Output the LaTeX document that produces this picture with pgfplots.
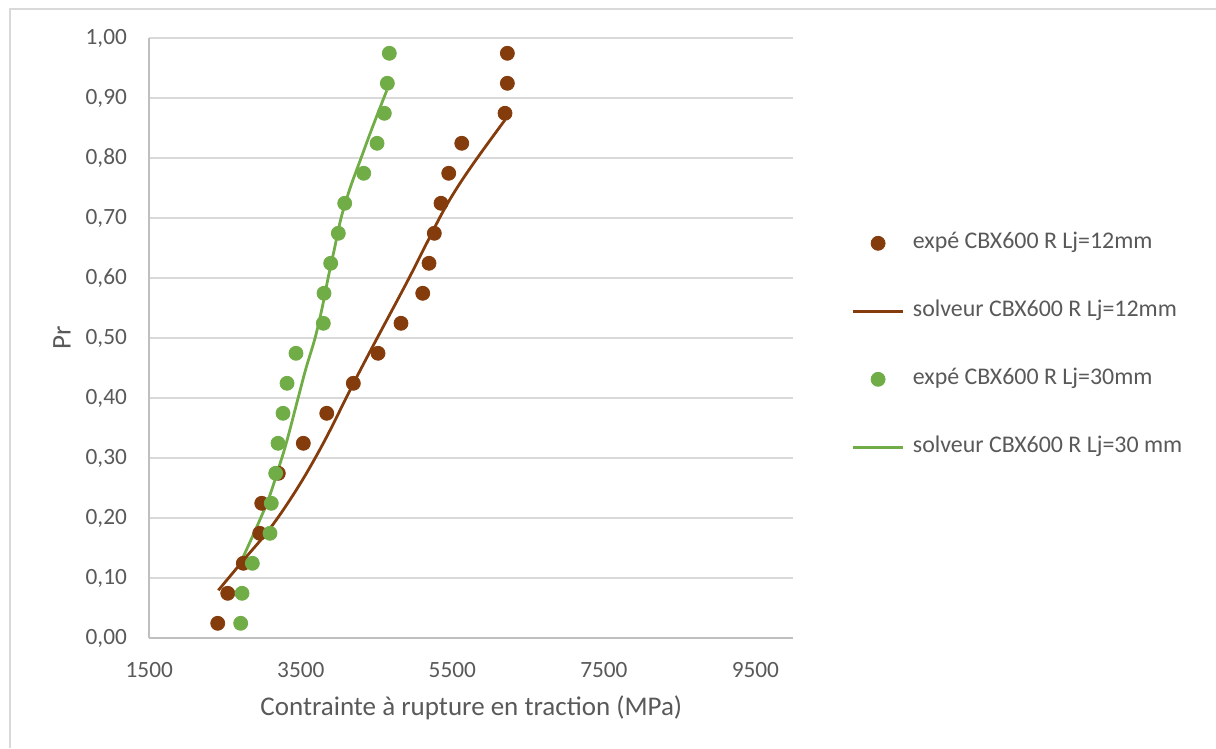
\documentclass[border=0pt]{standalone}
\usepackage{fontspec}
\setmainfont{Carlito}
\usepackage{pgfplots}
\pgfplotsset{compat=1.18}
\definecolor{brn}{RGB}{132,60,12}
\definecolor{grn}{RGB}{112,173,71}
\definecolor{txt}{RGB}{89,89,89}
\definecolor{gridc}{RGB}{217,217,217}
\definecolor{axl}{RGB}{191,191,191}
\definecolor{brd}{RGB}{217,217,217}

\pgfplotsset{
  markleg/.style={legend image code/.code={\path[draw=none,fill=none] (0bp,0) -- (25bp,0); \draw[##1] plot coordinates {(12.5bp,0)};}},
  lineleg/.style={legend image code/.code={\draw[##1] (0bp,0) -- (25bp,0);}},
}

\pgfplotstableread{
x y
2403 0.025
2535 0.075
2741 0.125
2957 0.175
2984 0.225
3203 0.275
3533 0.325
3842 0.375
4193 0.425
4519 0.475
4822 0.525
5109 0.575
5192 0.625
5262 0.675
5350 0.725
5452 0.775
5624 0.825
6195 0.875
6226 0.925
6226 0.975
}\expA

\pgfplotstableread{
x y
2411 0.080
2741 0.130
3050 0.176
3300 0.220
3560 0.272
3842 0.336
4193 0.4245
4506 0.500
4927 0.600
5337 0.702
5558 0.750
5826 0.800
6195 0.864
}\solA

\pgfplotstableread{
x y
2706 0.025
2724 0.075
2860 0.125
3093 0.175
3110 0.225
3168 0.275
3199 0.325
3265 0.375
3318 0.425
3436 0.475
3797 0.525
3806 0.575
3894 0.625
3995 0.675
4079 0.725
4330 0.775
4506 0.825
4602 0.875
4642 0.925
4668 0.975
}\expB

\pgfplotstableread{
x y
2741 0.136
3050 0.2245
3225 0.291
3318 0.330
3463 0.400
3568 0.450
3687 0.500
3780 0.550
3859 0.600
3945 0.650
4030 0.700
4149 0.750
4294 0.800
4440 0.850
4634 0.913
}\solB

\begin{document}
\begin{tikzpicture}[x=1bp,y=1bp]
\useasboundingbox (0,0) rectangle (608,374);
\draw[brd, line width=1bp] (5,0) -- (5,369.5) -- (608,369.5);
\begin{axis}[
  at={(74.65bp,54.85bp)}, anchor=south west,
  scale only axis, width=322bp, height=300bp,
  xmin=1500, xmax=10000, ymin=0, ymax=1,
  axis lines*=left,
  axis line style={axl, line width=1bp, -},
  major tick length=0pt,
  ymajorgrids, grid style={gridc, line width=1bp},
  scaled x ticks=false, scaled y ticks=false,
  /pgf/number format/assume math mode=true,
  tick label style={font=\fontsize{11.65bp}{13bp}\selectfont, text=txt},
  xtick={1500,3500,5500,7500,9500},
  xticklabels={1500,3500,5500,7500,9500},
  ytick={0,0.1,0.2,0.3,0.4,0.5,0.6,0.7,0.8,0.9,1},
  yticklabels={{0,00},{0,10},{0,20},{0,30},{0,40},{0,50},{0,60},{0,70},{0,80},{0,90},{1,00}},
  yticklabel style={anchor=east, inner sep=0pt, xshift=-11bp},
  xticklabel style={anchor=north, inner sep=0pt, yshift=-11.7bp},
  legend cell align=left,
  legend style={at={(rel axis cs:1.0907,0.4883)}, anchor=west, draw=none, fill=none,
    inner sep=0pt, outer sep=0pt, column sep=4.2bp, row sep=24.5bp,
    font=\fontsize{11.95bp}{13bp}\selectfont, text=txt,
    nodes={inner sep=0pt, outer sep=0pt, text height=7.5bp, text depth=2bp}},
]
\addplot[only marks, mark=*, mark size=3.5bp, color=brn, mark options={draw=brn, fill=brn}, markleg]
  table[x=x, y=y] {\expA};
\addlegendentry{expé CBX600 R Lj=12mm}
\addplot[no marks, color=brn, line width=1.4bp, smooth, tension=0.55, lineleg]
  table[x=x, y=y] {\solA};
\addlegendentry{solveur CBX600 R Lj=12mm}
\addplot[only marks, mark=*, mark size=3.5bp, color=grn, mark options={draw=grn, fill=grn}, markleg]
  table[x=x, y=y] {\expB};
\addlegendentry{expé CBX600 R Lj=30mm}
\addplot[no marks, color=grn, line width=1.4bp, smooth, tension=0.55, lineleg]
  table[x=x, y=y] {\solB};
\addlegendentry{solveur CBX600 R Lj=30 mm}
\end{axis}
\node[text=txt, font=\fontsize{13.5bp}{15bp}\selectfont] at (235.65,20) {Contrainte à rupture en traction (MPa)};
\node[text=txt, font=\fontsize{13.5bp}{15bp}\selectfont, rotate=90] at (31,205) {Pr};
\end{tikzpicture}
\end{document}
